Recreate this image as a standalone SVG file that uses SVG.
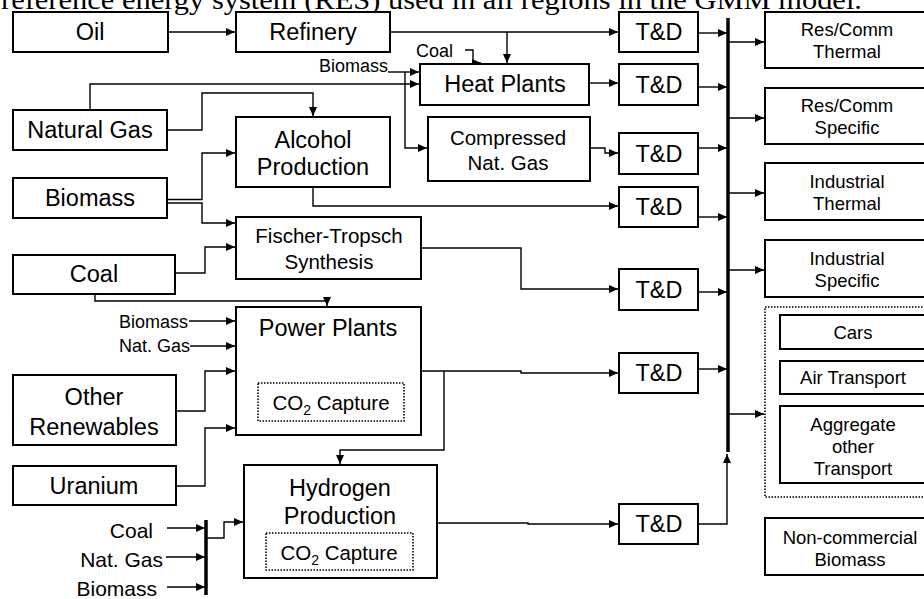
<svg xmlns="http://www.w3.org/2000/svg" width="924" height="599" viewBox="0 0 924 599">
<defs>
<marker id="ah" markerUnits="userSpaceOnUse" markerWidth="10" markerHeight="8" refX="9" refY="4" orient="auto">
<path d="M0,0 L9,4 L0,8 Z" fill="#000"/>
</marker>
<style>
.box{fill:#fff;stroke:#000;stroke-width:2}
.dot{fill:none;stroke:#000;stroke-width:1.6;stroke-dasharray:1.5 1.5}
.t{font-family:"Liberation Sans",Arial,sans-serif;font-size:23.5px;text-anchor:middle;fill:#000}
.m{font-family:"Liberation Sans",Arial,sans-serif;font-size:20.5px;text-anchor:middle;fill:#000}
.s{font-family:"Liberation Sans",Arial,sans-serif;font-size:18.5px;text-anchor:middle;fill:#000}
.l{font-family:"Liberation Sans",Arial,sans-serif;font-size:18px;text-anchor:end;fill:#000}
.lh{font-family:"Liberation Sans",Arial,sans-serif;font-size:21px;text-anchor:end;fill:#000}
.c{fill:none;stroke:#000;stroke-width:1.4}
.a{marker-end:url(#ah)}
.bus{fill:none;stroke:#000;stroke-width:3.5}
</style>
</defs>
<rect width="924" height="599" fill="#fff"/>
<text x="1" y="9" font-family="'Liberation Serif','Times New Roman',serif" font-size="27" textLength="861" lengthAdjust="spacingAndGlyphs">reference energy system (RES) used in all regions in the GMM model.</text>

<g id="connectors">
<path class="c a" d="M168,32 H235"/>
<path class="c a" d="M390,32 H618"/>
<path class="c a" d="M507,32 V63"/>
<path class="c a" d="M465,50 H473 V63 H481"/>
<path class="c a" d="M388,72 H419"/>
<path class="c a" d="M405,72 V148 H427"/>
<path class="c a" d="M90,110 V84 H419"/>
<path class="c a" d="M167,130 H202 V93 H313 V116"/>
<path class="c a" d="M167,199.5 H202 V153 H235"/>
<path class="c a" d="M167,203 H202 V223 H235"/>
<path class="c a" d="M175,273 H205 V247 H235"/>
<path class="c a" d="M95,294 V301 H327 V306"/>
<path class="c a" d="M189,321 H235"/>
<path class="c a" d="M190,346 H235"/>
<path class="c a" d="M176,411 H205 V371 H235"/>
<path class="c a" d="M176,486 H205 V428 H235"/>
<path class="c a" d="M167,528 H205"/>
<path class="c a" d="M166,557 H205"/>
<path class="c a" d="M167,587 H205"/>
<path class="bus" d="M206,520 V595"/>
<path class="c a" d="M206,538 H224 V522 H243"/>
<path class="c a" d="M589,83 H618"/>
<path class="c a" d="M590,148 H605 V153 H618"/>
<path class="c a" d="M313,187 V206 H618"/>
<path class="c a" d="M421,248 H521 V289 H618"/>
<path class="c a" d="M421,371 H521 V373 H618"/>
<path class="c a" d="M444,371 V450 H340 V464"/>
<path class="c a" d="M437,523 H528 V524 H618"/>
<path class="c a" d="M698,33 H727"/>
<path class="c a" d="M698,87 H727"/>
<path class="c a" d="M698,148 H727"/>
<path class="c a" d="M698,217 H727"/>
<path class="c a" d="M698,292 H727"/>
<path class="c a" d="M698,369 H727"/>
<path class="c a" d="M698,524 H727 V454"/>
<path class="bus" d="M728,18 V452"/>
<path class="c a" d="M729,42 H764"/>
<path class="c a" d="M729,118 H764"/>
<path class="c a" d="M729,193 H764"/>
<path class="c a" d="M729,270 H764"/>
<path class="c a" d="M729,414 H764"/>
</g>

<g id="oil"><rect class="box" x="13" y="12" width="155" height="40"/><text class="t" x="90" y="40">Oil</text></g>
<g id="refinery"><rect class="box" x="236" y="12" width="154" height="40"/><text class="t" x="313" y="40">Refinery</text></g>
<g id="natural-gas"><rect class="box" x="13" y="110" width="154" height="40"/><text class="t" x="90" y="138">Natural Gas</text></g>
<g id="biomass"><rect class="box" x="13" y="178" width="154" height="40"/><text class="t" x="90" y="206">Biomass</text></g>
<g id="coal"><rect class="box" x="13" y="255" width="162" height="39"/><text class="t" x="94" y="282">Coal</text></g>
<g id="other-renewables"><rect class="box" x="13" y="375" width="163" height="70"/><text class="t" x="94" y="405">Other</text><text class="t" x="94" y="435">Renewables</text></g>
<g id="uranium"><rect class="box" x="13" y="466" width="163" height="39"/><text class="t" x="94" y="494">Uranium</text></g>

<g id="alcohol"><rect class="box" x="236" y="117" width="154" height="70"/><text class="t" x="313" y="148">Alcohol</text><text class="t" x="313" y="175">Production</text></g>
<g id="fischer-tropsch"><rect class="box" x="236" y="217" width="185" height="62"/><text class="m" x="329" y="243">Fischer-Tropsch</text><text class="m" x="329" y="269">Synthesis</text></g>
<g id="power-plants"><rect class="box" x="236" y="307" width="185" height="128"/><text class="t" x="328" y="336">Power Plants</text>
<rect class="dot" x="258" y="383" width="146" height="38"/><text class="m" x="331" y="410">CO<tspan font-size="14" dy="5">2</tspan><tspan dy="-5"> Capture</tspan></text></g>
<g id="hydrogen"><rect class="box" x="244" y="465" width="193" height="113"/><text class="t" x="340" y="496">Hydrogen</text><text class="t" x="340" y="524">Production</text>
<rect class="dot" x="266" y="533" width="147" height="37"/><text class="m" x="339" y="560">CO<tspan font-size="14" dy="5">2</tspan><tspan dy="-5"> Capture</tspan></text></g>
<g id="heat-plants"><rect class="box" x="420" y="64" width="169" height="41"/><text class="t" x="505" y="92">Heat Plants</text></g>
<g id="cng"><rect class="box" x="428" y="117" width="162" height="64"/><text class="m" x="508" y="145">Compressed</text><text class="m" x="508" y="170">Nat. Gas</text></g>

<g id="labels">
<text class="l" x="453" y="57">Coal</text>
<text class="l" x="388" y="72">Biomass</text>
<text class="l" x="188" y="328">Biomass</text>
<text class="l" x="190" y="352">Nat. Gas</text>
<text class="lh" x="153" y="538">Coal</text>
<text class="lh" x="163" y="567">Nat. Gas</text>
<text class="lh" x="157" y="596">Biomass</text>
</g>

<g id="td1"><rect class="box" x="619" y="12" width="79" height="40"/><text class="t" x="659" y="40">T&amp;D</text></g>
<g id="td2"><rect class="box" x="619" y="64" width="79" height="41"/><text class="t" x="659" y="93">T&amp;D</text></g>
<g id="td3"><rect class="box" x="619" y="133" width="79" height="41"/><text class="t" x="659" y="162">T&amp;D</text></g>
<g id="td4"><rect class="box" x="619" y="187" width="79" height="40"/><text class="t" x="659" y="215">T&amp;D</text></g>
<g id="td5"><rect class="box" x="619" y="269" width="79" height="41"/><text class="t" x="659" y="298">T&amp;D</text></g>
<g id="td6"><rect class="box" x="619" y="353" width="79" height="40"/><text class="t" x="659" y="381">T&amp;D</text></g>
<g id="td7"><rect class="box" x="619" y="504" width="79" height="40"/><text class="t" x="659" y="532">T&amp;D</text></g>

<g id="res-comm-thermal"><rect class="box" x="765" y="12" width="170" height="56"/><text class="s" x="847" y="36">Res/Comm</text><text class="s" x="847" y="58">Thermal</text></g>
<g id="res-comm-specific"><rect class="box" x="765" y="88" width="170" height="56"/><text class="s" x="847" y="112">Res/Comm</text><text class="s" x="847" y="134">Specific</text></g>
<g id="industrial-thermal"><rect class="box" x="765" y="163" width="170" height="57"/><text class="s" x="847" y="188">Industrial</text><text class="s" x="847" y="210">Thermal</text></g>
<g id="industrial-specific"><rect class="box" x="765" y="240" width="170" height="57"/><text class="s" x="847" y="265">Industrial</text><text class="s" x="847" y="287">Specific</text></g>
<g id="transport"><rect class="dot" x="765" y="307" width="170" height="190"/>
<g id="cars"><rect class="box" x="780" y="315" width="155" height="34"/><text class="s" x="853" y="339">Cars</text></g>
<g id="air-transport"><rect class="box" x="780" y="361" width="155" height="33"/><text class="s" x="853" y="384">Air Transport</text></g>
<g id="aggregate"><rect class="box" x="780" y="406" width="155" height="77"/><text class="s" x="853" y="431">Aggregate</text><text class="s" x="853" y="453">other</text><text class="s" x="853" y="475">Transport</text></g>
</g>
<g id="non-commercial-biomass"><rect class="box" x="765" y="518" width="170" height="57"/><text class="s" x="850" y="544">Non-commercial</text><text class="s" x="850" y="566">Biomass</text></g>
</svg>
